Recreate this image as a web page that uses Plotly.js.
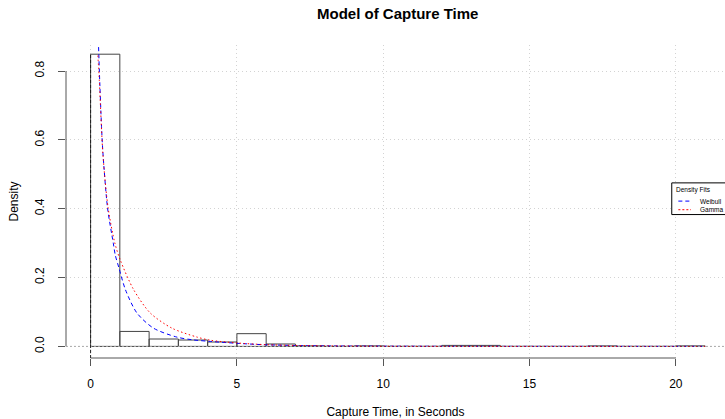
<!DOCTYPE html>
<html>
<head>
<meta charset="utf-8">
<script src="https://cdn.plot.ly/plotly-3.0.1.min.js"></script>
<style>html,body{margin:0;padding:0;overflow:hidden;background:#fff;}#chart{width:725px;height:419px;}</style>
</head>
<body>
<div id="chart"></div>
<script>
// Histogram bins (width 1 second) and densities
var binStarts = [0,1,2,3,4,5,6,7,8,9,10,11,12,13,14,15,16,17,18,19,20];
var binDensity = [0.849,0.0435,0.0215,0.0185,0.0128,0.037,0.007,0.0014,0,0.0014,0,0,0.0029,0.0029,0,0,0,0.0014,0,0,0.0014];

// Weibull density fit
var weibullX = [0.25,0.27,0.30,0.376,0.42,0.58,0.776,0.845,0.97,1.19,1.585,2.15,2.95,3.5,4.09,5.0,5.9,7,8,10,12,15,18,21];
var weibullY = [0.93,0.88,0.80,0.635,0.565,0.402,0.30,0.265,0.228,0.165,0.097,0.053,0.027,0.019,0.0145,0.009,0.005,0.0025,0.0015,0.0006,0.0003,0.0001,0.00005,0.00002];

// Gamma density fit
var gammaX = [0.25,0.30,0.42,0.60,0.83,1.01,1.47,2.04,2.78,3.64,4.09,5.0,6.0,7,8,10,12,15,18,21];
var gammaY = [0.845,0.77,0.56,0.402,0.30,0.252,0.165,0.097,0.053,0.027,0.018,0.010,0.005,0.0028,0.0015,0.0005,0.0002,0.00005,0.00001,0.000003];

var xTicks = [0,5,10,15,20];
var yTicks = [0,0.2,0.4,0.6,0.8];
var yTickText = ['0.0','0.2','0.4','0.6','0.8'];
var legendLabels = ['Weibull','Gamma'];

var FONT = 'Liberation Sans, Arial, Helvetica, sans-serif';

var traces = [
  {type:'bar', x:binStarts, y:binDensity, width:1, offset:0,
   marker:{color:'rgba(255,255,255,0)', line:{color:'#444', width:1}},
   showlegend:false, hoverinfo:'x+y'},
  {type:'scatter', mode:'lines', x:weibullX, y:weibullY, name:legendLabels[0],
   line:{color:'#0000FF', width:1, dash:'4px,3px', shape:'spline', smoothing:0.8},
   showlegend:false, cliponaxis:true},
  {type:'scatter', mode:'lines', x:gammaX, y:gammaY, name:legendLabels[1],
   line:{color:'#FF0000', width:1, dash:'1.5px,2.5px', shape:'spline', smoothing:0.8},
   showlegend:false, cliponaxis:true}
];

var layout = {
  width:725, height:419,
  margin:{l:65.7, r:0, t:45, b:60.7, pad:0},
  paper_bgcolor:'#fff', plot_bgcolor:'#fff',
  font:{family:FONT, size:12, color:'#000'},
  bargap:0,
  title:{text:'Model of Capture Time', font:{family:FONT, size:15, color:'#000', weight:'bold'},
         x:0.5034, xref:'paper', xanchor:'center', y:0.966, yref:'container', yanchor:'middle'},
  xaxis:{range:[-0.84, 21.68], tickvals:xTicks, ticktext:xTicks.map(String),
         ticks:'outside', ticklen:7, tickcolor:'#555', tickwidth:1,
         showgrid:true, gridcolor:'#d3d3d3', griddash:'1px,3px', gridwidth:1,
         zeroline:false, showline:false, ticklabelstandoff:8,
         tickfont:{family:FONT, size:12, color:'#000'},
         title:{text:'Capture Time, in Seconds', font:{family:FONT, size:12, color:'#000'}, standoff:19}},
  yaxis:{range:[-0.0337, 0.8757], tickvals:yTicks, ticktext:yTickText, tickangle:-90,
         ticks:'outside', ticklen:7, tickcolor:'#555', tickwidth:1,
         showgrid:true, gridcolor:'#d3d3d3', griddash:'1px,3px', gridwidth:1,
         zeroline:false, showline:false, ticklabelstandoff:9,
         tickfont:{family:FONT, size:12, color:'#000'},
         title:{text:'Density', font:{family:FONT, size:12, color:'#000'}, standoff:12}},
  shapes:[
    // R-style axis lines spanning first to last tick
    {type:'line', xref:'x', yref:'paper', x0:0, x1:20, y0:0, y1:0, line:{color:'#555', width:1}},
    {type:'line', xref:'paper', yref:'y', x0:0, x1:0, y0:0, y1:0.8, line:{color:'#555', width:1}},
    // dotted baseline at 0
    {type:'line', xref:'paper', yref:'y', x0:0, x1:1, y0:0, y1:0, layer:'above', line:{color:'#aaa', width:1, dash:'2px,2px'}},
    // dashed vertical line at x = 0
    {type:'line', xref:'x', yref:'y', x0:0, x1:0, y0:-0.0337, y1:0.849, layer:'above', line:{color:'#222', width:1, dash:'3px,2px'}},
    // legend box
    {type:'rect', xref:'paper', yref:'paper', x0:0.9192, x1:1.03, y0:0.4583, y1:0.5595, layer:'above',
     fillcolor:'#fff', line:{color:'#000', width:1}},
    {type:'line', xref:'paper', yref:'paper', x0:0.9292, x1:0.9484, y0:0.5011, y1:0.5011, layer:'above',
     line:{color:'#3333FF', width:1.3, dash:'4px,3px'}},
    {type:'line', xref:'paper', yref:'paper', x0:0.9292, x1:0.9484, y0:0.4743, y1:0.4743, layer:'above',
     line:{color:'#FF3333', width:1.3, dash:'2px,2px'}}
  ],
  annotations:[
    {text:'Density Fits', xref:'paper', yref:'paper', x:0.9519, y:0.5381, xanchor:'center', yanchor:'middle',
     showarrow:false, font:{family:FONT, size:6.5, color:'#000'}},
    {text:legendLabels[0], xref:'paper', yref:'paper', x:0.9595, y:0.5011, xanchor:'left', yanchor:'middle',
     showarrow:false, font:{family:FONT, size:6.5, color:'#000'}},
    {text:legendLabels[1], xref:'paper', yref:'paper', x:0.9595, y:0.4743, xanchor:'left', yanchor:'middle',
     showarrow:false, font:{family:FONT, size:6.5, color:'#000'}}
  ]
};

Plotly.newPlot('chart', traces, layout, {displayModeBar:false, staticPlot:true});
</script>
</body>
</html>
